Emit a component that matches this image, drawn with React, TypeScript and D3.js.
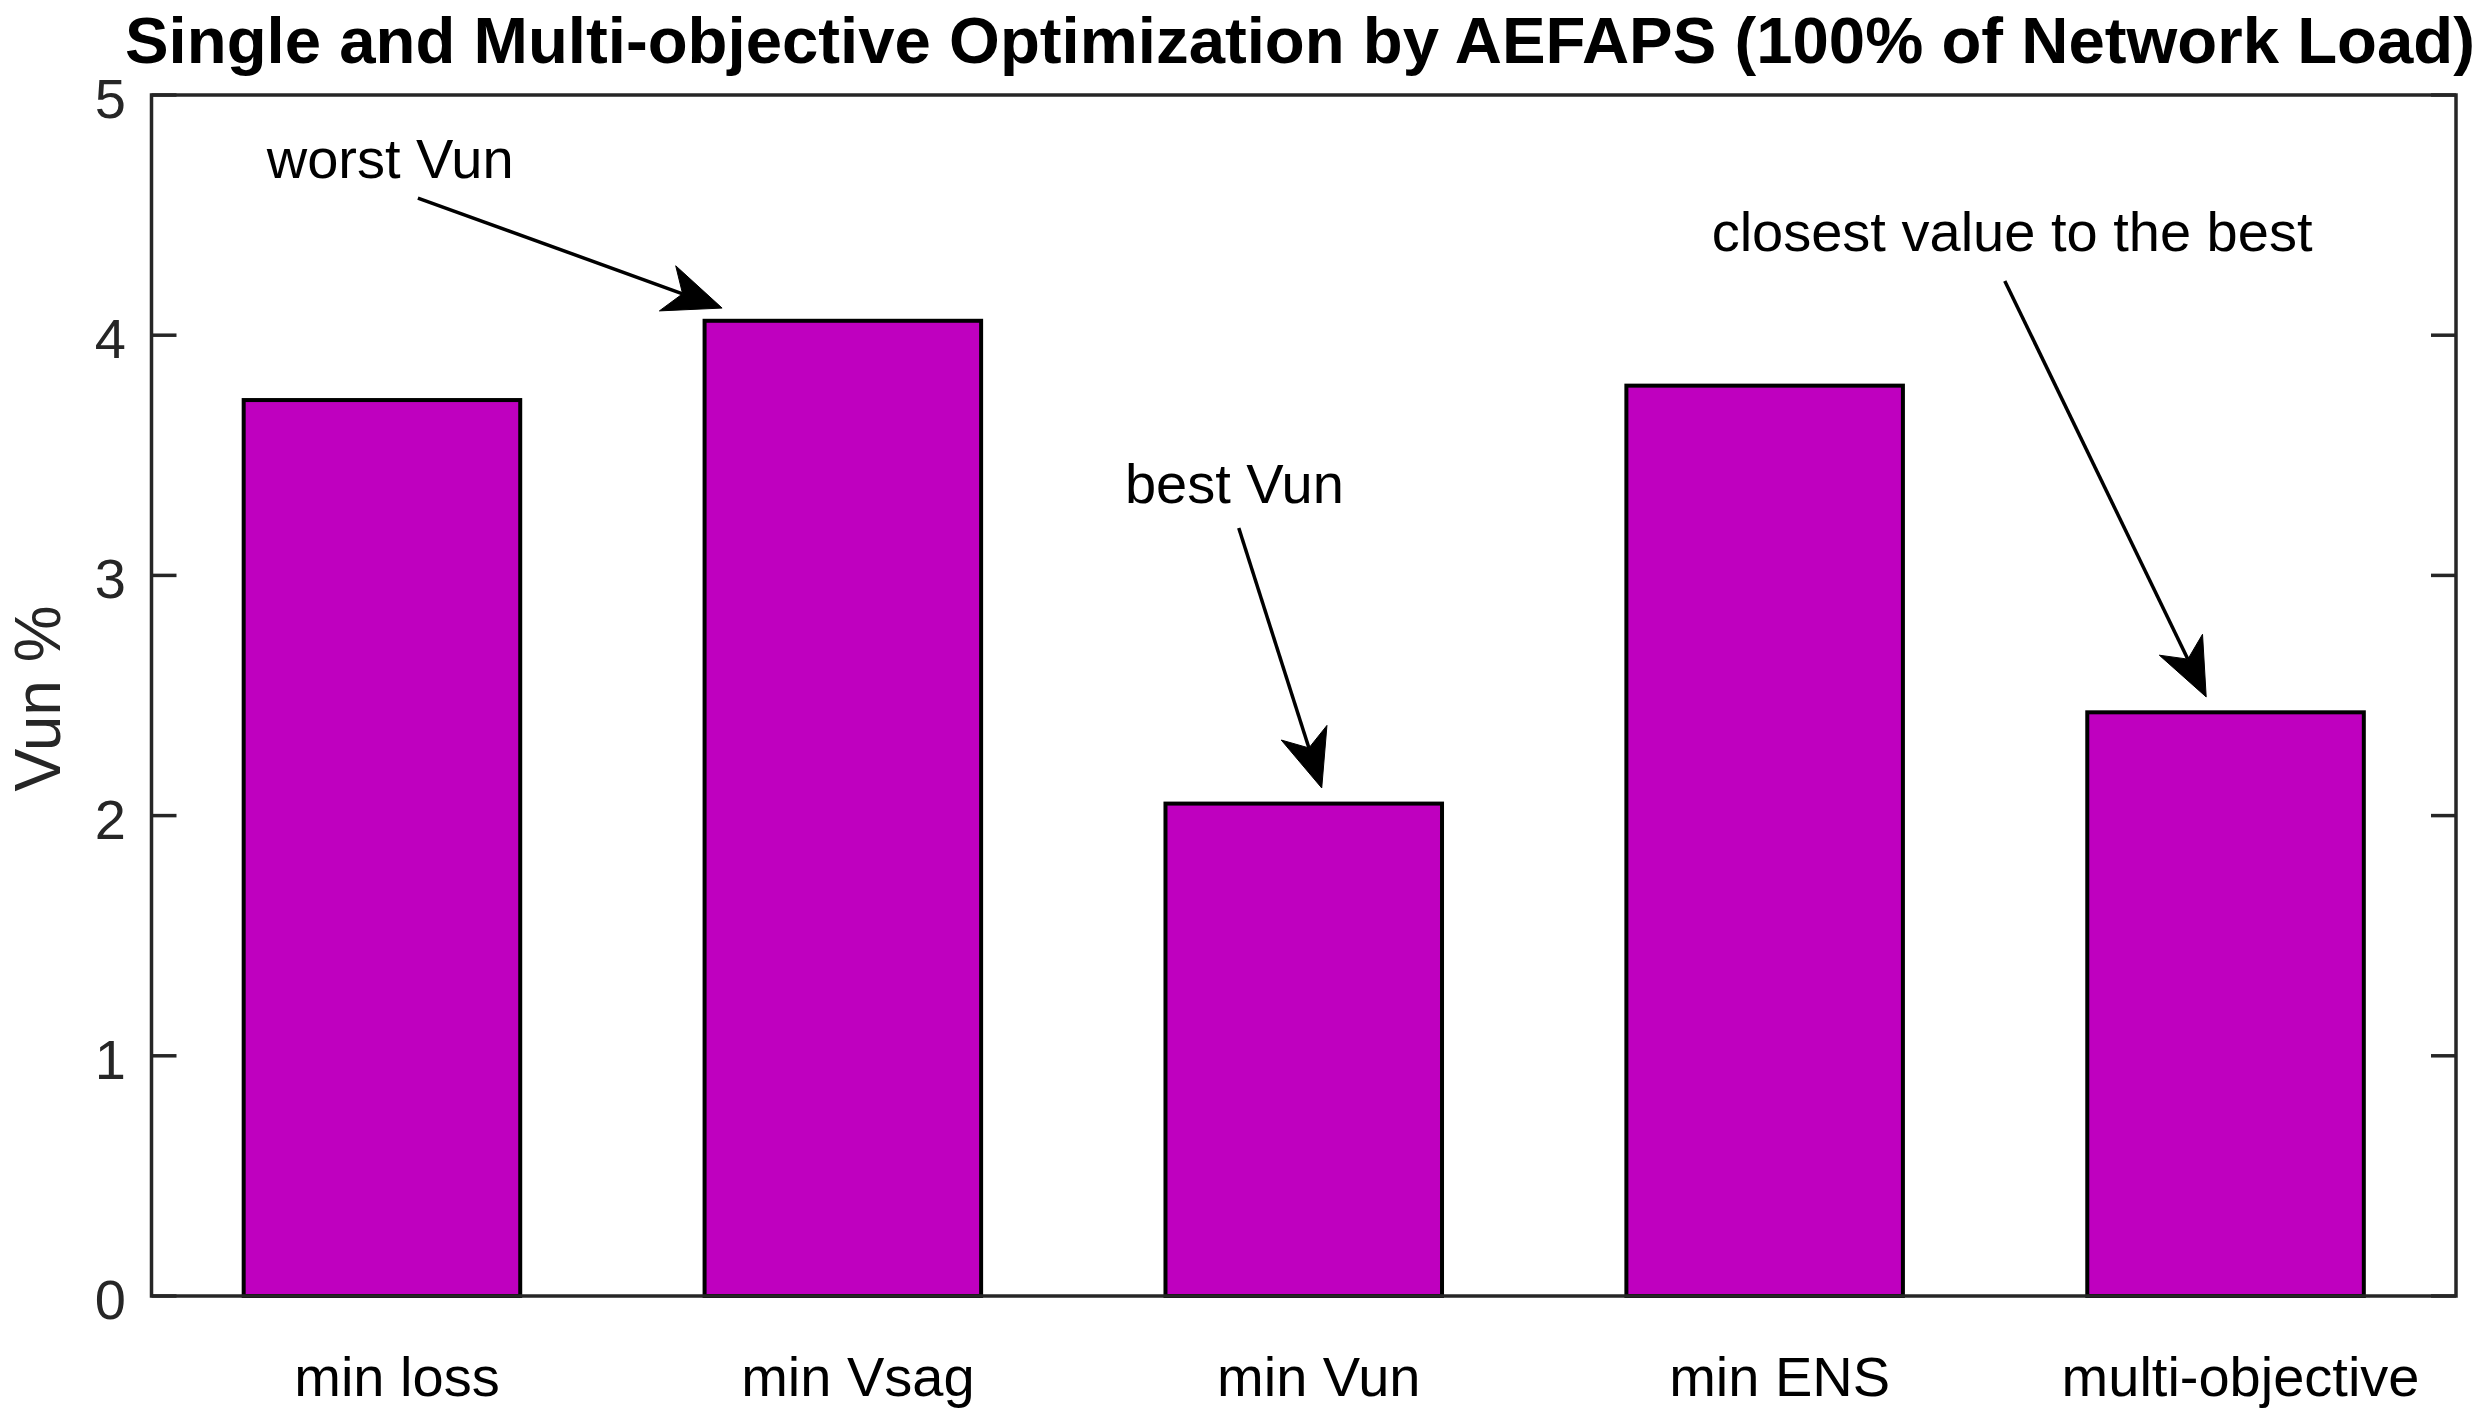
import React from "react";
import * as d3 from "d3";

const categories = ["min loss", "min Vsag", "min Vun", "min ENS", "multi-objective"];
const vunValues = [3.73, 4.06, 2.05, 3.79, 2.43];
const yTicks = [0, 1, 2, 3, 4, 5];
const titleText = "Single and Multi-objective Optimization by AEFAPS (100% of Network Load)";
const yLabel = "Vun %";
const noteTexts = ["worst Vun", "best Vun", "closest value to the best"];
// annotation anchors in data coordinates (category position, value)
const noteTextAt: [number, number][] = [[0.75, 4.655], [2.612, 3.301], [3.885, 4.351]];
const arrowFrom: [number, number][] = [[1.078, 4.571], [2.859, 3.197], [4.521, 4.226]];
const arrowTo: [number, number][] = [[1.738, 4.113], [3.039, 2.115], [4.958, 2.494]];

const W = 2482;
const H = 1421;
const M = { left: 151.5, right: 2456, top: 95, bottom: 1296 };
const AXIS = "#262626";
const FONT = "'Liberation Sans', Arial, Helvetica, sans-serif";

export default function App() {
  const x = d3
    .scaleBand<string>()
    .domain(categories)
    .range([M.left, M.right])
    .paddingInner(0.4)
    .paddingOuter(0.2);
  const xc = d3.scaleLinear().domain([0.5, categories.length + 0.5]).range([M.left, M.right]);
  const y = d3.scaleLinear().domain([0, 5]).range([M.bottom, M.top]);

  const arrowHead = (fx: number, fy: number, tx: number, ty: number) => {
    const dx = tx - fx;
    const dy = ty - fy;
    const len = Math.hypot(dx, dy);
    const ux = dx / len;
    const uy = dy / len;
    const px = -uy;
    const py = ux;
    const L = 58;
    const Wd = 24;
    const notch = 42;
    const bx = tx - L * ux;
    const by = ty - L * uy;
    const nx = tx - notch * ux;
    const ny = ty - notch * uy;
    const pts = [
      [tx, ty],
      [bx + Wd * px, by + Wd * py],
      [nx, ny],
      [bx - Wd * px, by - Wd * py],
    ];
    return { poly: pts.map((p) => p.join(",")).join(" "), nx, ny };
  };

  return (
    <svg
      width={W}
      height={H}
      style={{ position: "absolute", left: 0, top: 0, display: "block", background: "#fff" }}
      fontFamily={FONT}
    >
      <rect x={0} y={0} width={W} height={H} fill="#fff" />
      {/* bars */}
      {categories.map((c, i) => (
        <rect
          key={c}
          x={x(c)!}
          y={y(vunValues[i])}
          width={x.bandwidth()}
          height={y(0) - y(vunValues[i])}
          fill="#BF00BF"
          stroke="#000"
          strokeWidth={4}
        />
      ))}
      {/* axes box */}
      <rect
        x={M.left}
        y={M.top}
        width={M.right - M.left}
        height={M.bottom - M.top}
        fill="none"
        stroke={AXIS}
        strokeWidth={3.5}
      />
      {/* y ticks */}
      {yTicks.map((t) => (
        <g key={t}>
          <line x1={M.left} x2={M.left + 25} y1={y(t)} y2={y(t)} stroke={AXIS} strokeWidth={3.5} />
          <line x1={M.right} x2={M.right - 25} y1={y(t)} y2={y(t)} stroke={AXIS} strokeWidth={3.5} />
          <text x={126} y={y(t)} dy="0.41em" textAnchor="end" fontSize={56} fill={AXIS}>
            {d3.format("d")(t)}
          </text>
        </g>
      ))}
      {/* x labels */}
      {categories.map((c) => (
        <text
          key={c}
          x={x(c)! + x.bandwidth() / 2 + 15}
          y={1396}
          textAnchor="middle"
          fontSize={56}
          fill="#000"
        >
          {c}
        </text>
      ))}
      {/* y label */}
      <text
        transform={`translate(60,${(M.top + M.bottom) / 2 + 3}) rotate(-90)`}
        textAnchor="middle"
        fontSize={64}
        fill={AXIS}
      >
        {yLabel}
      </text>
      {/* title */}
      <text
        x={1300}
        y={63}
        textAnchor="middle"
        fontSize={64}
        fontWeight="bold"
        fill="#000"
        textLength={2350}
        lengthAdjust="spacingAndGlyphs"
      >
        {titleText}
      </text>
      {/* annotations */}
      {noteTexts.map((t, i) => {
        const fx = xc(arrowFrom[i][0]);
        const fy = y(arrowFrom[i][1]);
        const tx = xc(arrowTo[i][0]);
        const ty = y(arrowTo[i][1]);
        const h = arrowHead(fx, fy, tx, ty);
        return (
          <g key={t}>
            <text x={xc(noteTextAt[i][0])} y={y(noteTextAt[i][1])} fontSize={56} fill="#000">
              {t}
            </text>
            <line x1={fx} y1={fy} x2={h.nx} y2={h.ny} stroke="#000" strokeWidth={3.5} />
            <polygon points={h.poly} fill="#000" stroke="#000" strokeWidth={1} />
          </g>
        );
      })}
    </svg>
  );
}
